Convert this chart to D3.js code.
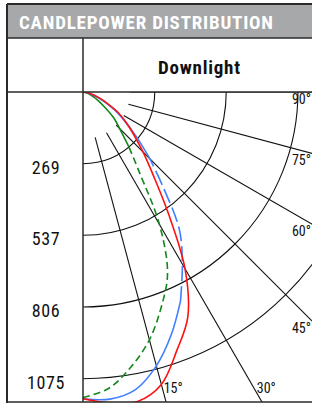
<!DOCTYPE html>
<html lang="en">
<head>
<meta charset="utf-8">
<title>Candlepower Distribution</title>
<script src="https://cdn.jsdelivr.net/npm/d3@7"></script>
<style>
  html, body { margin: 0; padding: 0; background: #fff; }
  svg { display: block; }
  text { font-family: "Liberation Sans Narrow", "Arial Narrow", "Roboto Condensed", "DejaVu Sans Condensed", sans-serif; }
</style>
</head>
<body>
<div id="chart"></div>
<script>
// values (candela by angle from nadir)
var title = "CANDLEPOWER DISTRIBUTION";
var seriesTitle = "Downlight";
var angles = [0, 5, 10, 15, 20, 25, 30, 35, 40, 45, 50, 55, 60, 65, 70, 75, 80, 85, 90];
var redCd   = [1150, 1170, 1178, 1135, 1030, 930, 765, 560, 412, 318, 248, 195, 150, 100, 65, 40, 20, 8, 0];
var blueCd  = [1150, 1156, 1133, 1063, 968, 865, 745, 630, 470, 355, 262, 192, 140, 92, 58, 35, 17, 6, 0];
var greenCd = [1146, 1115, 1045, 962, 858, 750, 573, 370, 267, 195, 150, 100, 68, 45, 28, 16, 8, 3, 0];
var ringTicks = [269, 537, 806, 1075];
var spokeAngles = [15, 30, 45, 60, 75, 90];

var width = 312, height = 404;
var box = {left: 7, top: 4, head: 38, row: 92, col: 83, bottom: 402};

var svg = d3.select("#chart").append("svg")
    .attr("width", width)
    .attr("height", height);

// header band
svg.append("rect")
    .attr("x", box.left).attr("y", box.top)
    .attr("width", width - box.left + 5).attr("height", box.head - box.top)
    .attr("fill", "#a7a8aa");

svg.append("text")
    .attr("x", 19).attr("y", 28.5)
    .attr("fill", "#fff")
    .attr("font-weight", "bold")
    .attr("font-size", 19)
    .attr("textLength", 254)
    .attr("lengthAdjust", "spacing")
    .text(title);

svg.append("text")
    .attr("x", 158).attr("y", 73.5)
    .attr("fill", "#111")
    .attr("font-weight", "bold")
    .attr("font-size", 19)
    .attr("textLength", 82)
    .attr("lengthAdjust", "spacing")
    .text(seriesTitle);

// plot
var r = d3.scaleLinear().domain([0, 1075]).range([0, 286.7]);
var toRad = function(a) { return (180 - a) * Math.PI / 180; };  // 0 deg points down

svg.append("clipPath").attr("id", "plotClip")
  .append("rect")
    .attr("x", box.col).attr("y", box.row)
    .attr("width", width - box.col + 5).attr("height", box.bottom - box.row);

var clip = svg.append("g").attr("clip-path", "url(#plotClip)");
var g = clip.append("g").attr("transform", "translate(" + box.col + "," + box.row + ")");

var arc = d3.arc();
g.selectAll(".ring")
  .data(ringTicks)
  .join("path")
    .attr("class", "ring")
    .attr("fill", "none")
    .attr("stroke", "#111")
    .attr("stroke-width", 1.1)
    .attr("d", function(d) {
      return arc({innerRadius: r(d), outerRadius: r(d), startAngle: Math.PI / 2, endAngle: Math.PI});
    });

g.selectAll(".spoke")
  .data(spokeAngles)
  .join("line")
    .attr("class", "spoke")
    .attr("stroke", "#111")
    .attr("stroke-width", 1.1)
    .attr("x1", function(d) { return d3.pointRadial(toRad(d), 47)[0]; })
    .attr("y1", function(d) { return d3.pointRadial(toRad(d), 47)[1]; })
    .attr("x2", function(d) { return d3.pointRadial(toRad(d), 460)[0]; })
    .attr("y2", function(d) { return d3.pointRadial(toRad(d), 460)[1]; });

var radial = d3.lineRadial()
    .angle(function(d) { return toRad(d[0]); })
    .radius(function(d) { return r(d[1]); })
    .curve(d3.curveCatmullRom);

function drawSeries(values, color, pieces) {
  var pts = angles.map(function(a, i) { return [a, values[i]]; });
  pieces.forEach(function(p) {
    g.append("path")
      .datum(pts.filter(function(d) { return d[0] >= p.from && d[0] <= p.to; }))
      .attr("fill", "none")
      .attr("stroke", color)
      .attr("stroke-width", 1.6)
      .attr("stroke-dasharray", p.dash || null)
      .attr("d", radial);
  });
}

drawSeries(greenCd, "#11881a", [{from: 0, to: 40, dash: "7,4"}, {from: 40, to: 90}]);
drawSeries(blueCd, "#3f7fff", [{from: 0, to: 25}, {from: 25, to: 45, dash: "15,5"}, {from: 45, to: 90}]);
drawSeries(redCd, "#ff1010", [{from: 0, to: 90}]);

// angle labels
var lab = svg.append("g").attr("transform", "translate(" + box.col + "," + box.row + ")");
lab.selectAll(".ang")
  .data(spokeAngles)
  .join("text")
    .attr("class", "ang")
    .attr("font-size", 14)
    .attr("fill", "#111")
    .attr("text-anchor", function(d) { return d <= 30 ? "start" : "end"; })
    .attr("x", function(d) {
      if (d <= 30) return (box.bottom - 9 - box.row) * Math.tan(d * Math.PI / 180);
      return width - box.col - 1;
    })
    .attr("y", function(d) {
      if (d <= 30) return box.bottom - 9 - box.row;
      var dx = width - box.col;
      return (d === 90 ? 0 : dx / Math.tan(d * Math.PI / 180)) + 11.5;
    })
    .text(function(d) { return d + "\u00b0"; });

// candela labels in left column
svg.selectAll(".cd")
  .data(ringTicks)
  .join("text")
    .attr("class", "cd")
    .attr("x", (box.left + box.col) / 2 + 1)
    .attr("y", function(d) { return box.row + r(d) + 10; })
    .attr("text-anchor", "middle")
    .attr("font-size", 18)
    .attr("letter-spacing", 0.6)
    .attr("fill", "#111")
    .text(function(d) { return d; });

// table lines
var frame = svg.append("g").attr("stroke", "#2a2a2a").attr("fill", "none");
frame.append("line").attr("x1", box.left).attr("x2", box.left).attr("y1", box.top).attr("y2", box.bottom + 1).attr("stroke-width", 2);
frame.append("line").attr("x1", box.left).attr("x2", width).attr("y1", box.top).attr("y2", box.top).attr("stroke-width", 2);
frame.append("line").attr("x1", box.left).attr("x2", width).attr("y1", box.head).attr("y2", box.head).attr("stroke-width", 1.5);
frame.append("line").attr("x1", box.left).attr("x2", width).attr("y1", box.row).attr("y2", box.row).attr("stroke-width", 1.5);
frame.append("line").attr("x1", box.col).attr("x2", box.col).attr("y1", box.head).attr("y2", box.bottom).attr("stroke-width", 1.5);
frame.append("line").attr("x1", box.left).attr("x2", width).attr("y1", box.bottom).attr("y2", box.bottom).attr("stroke-width", 1.5);
</script>
</body>
</html>
